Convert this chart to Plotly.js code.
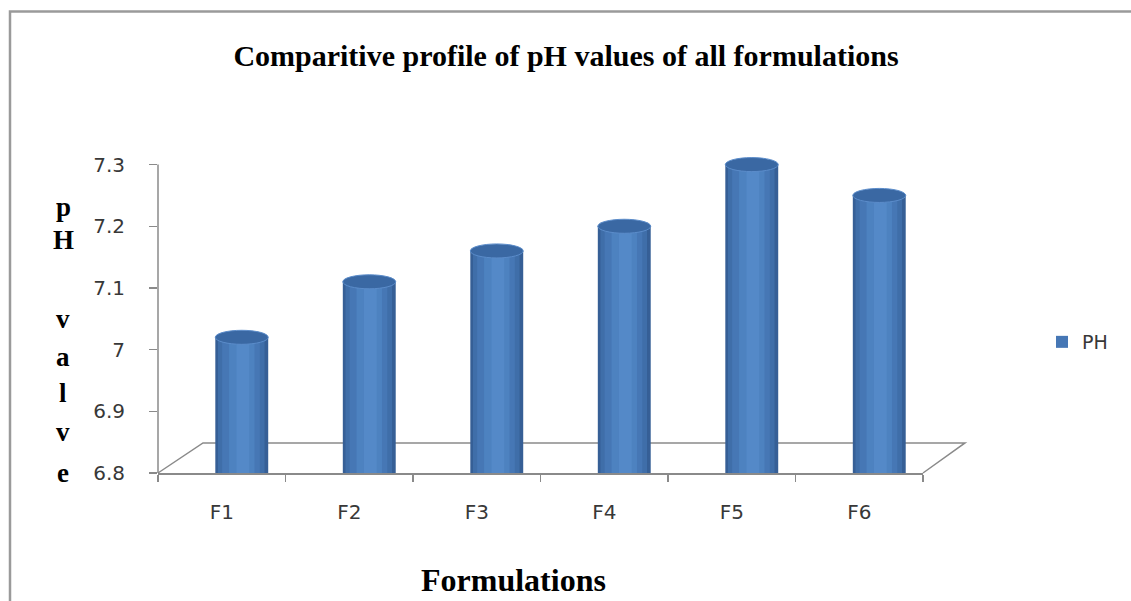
<!DOCTYPE html>
<html>
<head>
<meta charset="utf-8">
<script src="https://cdn.plot.ly/plotly-3.0.1.min.js"></script>
<style>
html,body{margin:0;padding:0;background:#fff;}
#chart{width:1131px;height:601px;}
</style>
</head>
<body>
<div id="chart"></div>
<script>
// ---- data ----
var categories = ["F1", "F2", "F3", "F4", "F5", "F6"];
var phValues = [7.02, 7.11, 7.16, 7.20, 7.30, 7.25];
var seriesName = "PH";
var titleText = "Comparitive profile of pH values of all formulations";
var xTitleText = "Formulations";
var yTitleLetters = ["p", "H", "v", "a", "l", "v", "e"];
var yTickVals = [6.8, 6.9, 7.0, 7.1, 7.2, 7.3];

// ---- layout geometry ----
var W = 1131, H = 601;
var yMin = 6.8, yTop = 7.3;           // axis drawn from yMin to yTop
var pxPerUnit = 308 / (yTop - yMin);  // 6.8 at y=473, 7.3 at y=165
var headroom = 0.035;                 // keeps cylinder caps from being clipped
var yMax = yTop + headroom;
var mL = 158, mR = 208, mB = 128;
var mT = 165 - headroom * pxPerUnit;
var plotW = W - mL - mR, plotH = H - mT - mB;
function px2paperX(px){ return (px - mL) / plotW; }
function px2paperY(py){ return (H - mB - py) / plotH; }
var valPerPx = 1 / pxPerUnit;

// cylinder look: overlayed bars of decreasing width
var barW = 0.415, shift = 0.157;
var layers = [
  {a:0.00, b:1.00, c:"#365F96"},
  {a:0.05, b:0.93, c:"#3F6EA9"},
  {a:0.13, b:0.84, c:"#4677B5", legend:true},
  {a:0.26, b:0.74, c:"#4D82C0"},
  {a:0.40, b:0.64, c:"#5489C8"}
];
var traces = layers.map(function(L){
  var w = barW * (L.b - L.a);
  return {
    type: "bar",
    name: seriesName,
    x: categories,
    y: phValues.map(function(v){ return v - yMin; }),
    base: yMin,
    width: w,
    offset: shift - barW/2 + barW*L.a,
    marker: {color: L.c, line: {width: 0}},
    showlegend: !!L.legend,
    hoverinfo: "skip",
    cliponaxis: false
  };
});

var shapes = [];
// y axis line from 6.8 to 7.3 only
shapes.push({type:"line", xref:"paper", yref:"y", layer:"below",
  x0:0, x1:0, y0:yMin, y1:yTop, line:{color:"#8a8a8a", width:1.5}});
// 3D floor
var fx0 = px2paperX(203), fx1 = px2paperX(965), fy = px2paperY(443);
shapes.push({type:"path", xref:"paper", yref:"paper", layer:"below",
  path:"M 0,0 L "+fx0+","+fy+" L "+fx1+","+fy+" L 1,0",
  line:{color:"#8a8a8a", width:1.5}});
// outer frame (left + top)
var bx = px2paperX(10), by = px2paperY(12);
shapes.push({type:"path", xref:"paper", yref:"paper", layer:"below",
  path:"M "+bx+","+px2paperY(601)+" L "+bx+","+by+" L "+px2paperX(1131)+","+by,
  line:{color:"#9a9a9a", width:2.5}});
// cylinder top ellipses
var eh = 7 * valPerPx;
phValues.forEach(function(v, i){
  shapes.push({type:"circle", xref:"x", yref:"y", layer:"above",
    x0: i + shift - barW/2, x1: i + shift + barW/2,
    y0: v - eh, y1: v + eh,
    fillcolor:"#3A68A3", line:{color:"#5B8CCA", width:1}});
});

var annotations = [];
annotations.push({text: xTitleText, xref:"paper", yref:"paper",
  x: px2paperX(513), y: px2paperY(580), xanchor:"center", yanchor:"middle",
  showarrow:false, font:{family:"Liberation Serif, Times New Roman, serif", size:32, color:"#000", weight:"bold"}});
var letterY = [207, 240, 319, 357, 393, 432, 473];
yTitleLetters.forEach(function(ch, k){
  annotations.push({text: ch, xref:"paper", yref:"paper",
    x: px2paperX(63), y: px2paperY(letterY[k]), xanchor:"center", yanchor:"middle",
    showarrow:false, font:{family:"Liberation Serif, Times New Roman, serif", size:27, color:"#000", weight:"bold"}});
});

var layout = {
  width: W, height: H,
  margin: {l: mL, r: mR, t: mT, b: mB, pad: 0},
  paper_bgcolor: "#fff", plot_bgcolor: "rgba(0,0,0,0)",
  barmode: "overlay",
  title: {text: titleText, x: 566/W, xanchor:"center", xref:"container",
    y: 1 - 55/H, yanchor:"middle", yref:"container",
    font:{family:"Liberation Serif, Times New Roman, serif", size:30, color:"#000", weight:"bold"}},
  xaxis: {type:"category", showline:true, linecolor:"#8a8a8a", linewidth:1.5,
    ticks:"outside", tickson:"boundaries", ticklen:7, tickcolor:"#8a8a8a", tickwidth:1.5,
    showgrid:false, zeroline:false, ticklabelstandoff:20,
    tickfont:{family:"DejaVu Sans, Verdana, sans-serif", size:20, color:"#383838"}},
  yaxis: {range:[yMin, yMax], tickmode:"array", tickvals:yTickVals, showline:false,
    ticks:"outside", ticklen:8, tickcolor:"#8a8a8a", tickwidth:1.5,
    showgrid:false, zeroline:false, ticklabelstandoff:20,
    tickfont:{family:"DejaVu Sans, Verdana, sans-serif", size:20, color:"#383838"}},
  legend: {xref:"container", yref:"container", x: 1042/W, y: 1 - 342/H,
    xanchor:"left", yanchor:"middle", bgcolor:"rgba(0,0,0,0)",
    font:{family:"DejaVu Sans, Verdana, sans-serif", size:19, color:"#383838"}},
  shapes: shapes,
  annotations: annotations
};

Plotly.newPlot("chart", traces, layout, {staticPlot:true, displayModeBar:false});
</script>
</body>
</html>
